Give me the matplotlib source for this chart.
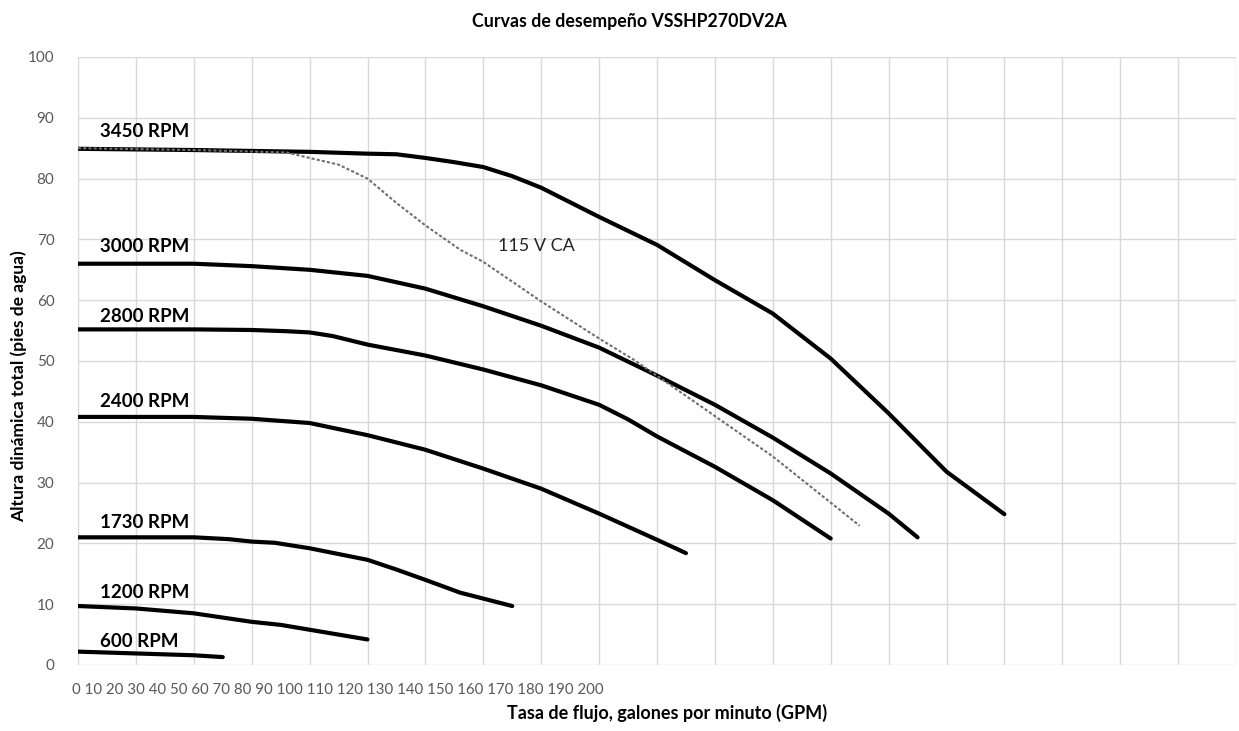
import matplotlib.pyplot as plt

# ---------------------------------------------------------
# Curvas de desempeño VSSHP270DV2A
# x runs over the 20 grid columns (0-200), y is head in ft of water
# ---------------------------------------------------------

plt.rcParams['font.family'] = ['Lato', 'DejaVu Sans']

gpm_ticks = list(range(0, 201, 10))
head_ticks = list(range(0, 101, 10))

# 3450 RPM
rpm3450_x = [0, 20, 40, 50, 55, 60, 65, 70, 75, 80, 90, 100, 110, 120, 130, 140, 150, 160]
rpm3450_y = [84.9, 84.7, 84.4, 84.1, 84.0, 83.4, 82.7, 81.9, 80.4, 78.5, 73.7, 69.1, 63.3, 57.8, 50.4, 41.4, 31.8, 24.8]

# 3000 RPM
rpm3000_x = [0, 20, 30, 40, 50, 60, 70, 80, 90, 100, 110, 120, 130, 140, 145]
rpm3000_y = [66.0, 66.0, 65.6, 65.0, 64.0, 61.9, 59.0, 55.8, 52.2, 47.6, 42.8, 37.4, 31.5, 24.9, 21.0]

# 2800 RPM
rpm2800_x = [0, 20, 30, 36, 40, 44, 50, 60, 70, 80, 90, 95, 100, 110, 120, 130]
rpm2800_y = [55.2, 55.2, 55.1, 54.9, 54.7, 54.1, 52.7, 50.9, 48.6, 46.0, 42.8, 40.4, 37.6, 32.6, 27.1, 20.8]

# 2400 RPM
rpm2400_x = [0, 20, 30, 40, 50, 60, 70, 80, 90, 100, 105]
rpm2400_y = [40.8, 40.8, 40.5, 39.8, 37.8, 35.4, 32.3, 29.0, 24.9, 20.6, 18.4]

# 1730 RPM
rpm1730_x = [0, 20, 26, 30, 34, 40, 50, 55, 60, 66, 75]
rpm1730_y = [21.0, 21.0, 20.7, 20.3, 20.1, 19.2, 17.3, 15.7, 14.0, 11.9, 9.7]

# 1200 RPM
rpm1200_x = [0, 10, 20, 30, 35, 40, 50]
rpm1200_y = [9.7, 9.3, 8.5, 7.1, 6.6, 5.8, 4.2]

# 600 RPM
rpm600_x = [0, 10, 20, 25]
rpm600_y = [2.2, 1.9, 1.6, 1.3]

# 115 V CA limit
v115_x = [0, 20, 36, 40, 45, 50, 55, 60, 66, 70, 80, 90, 96, 106, 120, 135]
v115_y = [85.0, 84.7, 84.3, 83.4, 82.3, 80.0, 76.0, 72.3, 68.3, 66.3, 59.8, 53.7, 50.2, 43.6, 34.3, 22.9]

curves = [
    ('3450 RPM', rpm3450_x, rpm3450_y, 87.8),
    ('3000 RPM', rpm3000_x, rpm3000_y, 68.9),
    ('2800 RPM', rpm2800_x, rpm2800_y, 57.4),
    ('2400 RPM', rpm2400_x, rpm2400_y, 43.3),
    ('1730 RPM', rpm1730_x, rpm1730_y, 23.4),
    ('1200 RPM', rpm1200_x, rpm1200_y, 12.0),
    ('600 RPM', rpm600_x, rpm600_y, 3.8),
]

W, H = 1239, 731
fig = plt.figure(figsize=(W / 100, H / 100), dpi=100)
ax = fig.add_axes([78 / W, 66 / H, 1158 / W, 608 / H])

ax.set_xlim(0, 200)
ax.set_ylim(0, 100)
ax.set_xticks(gpm_ticks)
ax.set_xticklabels([])
ax.set_yticks(head_ticks)
ax.tick_params(axis='both', length=0)
ax.tick_params(axis='y', labelsize=11, labelcolor='#595959', pad=17)
ax.grid(True, color='#d9d9d9', linewidth=1)
ax.set_axisbelow(True)
for s in ax.spines.values():
    s.set_visible(False)

# 115 V dashed line
ax.plot(v115_x, v115_y, color='#6f6f6f', linewidth=1.5, linestyle=(0, (1.5, 1)),
        zorder=3)

for label, xs, ys, ly in curves:
    ax.plot(xs, ys, color='black', linewidth=3, solid_capstyle='round',
            solid_joinstyle='round', zorder=2)
    ax.text(3.8, ly, label, fontsize=13.5, fontweight='bold', va='center',
            ha='left', color='black')

ax.text(72.5, 68.9, '115 V CA', fontsize=13, va='center', ha='left', color='#262626')

# tick labels are crowded on the left, as in the original chart
fig.text(72 / W, 1 - 690 / H, ' '.join(str(v) for v in gpm_ticks), fontsize=10.8,
         color='#595959', ha='left', va='center')

fig.text(629 / W, 1 - 22 / H, 'Curvas de desempeño VSSHP270DV2A', fontsize=12.8,
         fontweight='bold', ha='center', va='center')
fig.text(667 / W, 1 - 713 / H, 'Tasa de flujo, galones por minuto (GPM)', fontsize=13,
         fontweight='bold', ha='center', va='center')
fig.text(19 / W, 1 - 522 / H, 'Altura dinámica total (pies de agua)', fontsize=12.5,
         fontweight='bold', ha='center', va='bottom', rotation=90)

fig.savefig('out.png', dpi=100)
